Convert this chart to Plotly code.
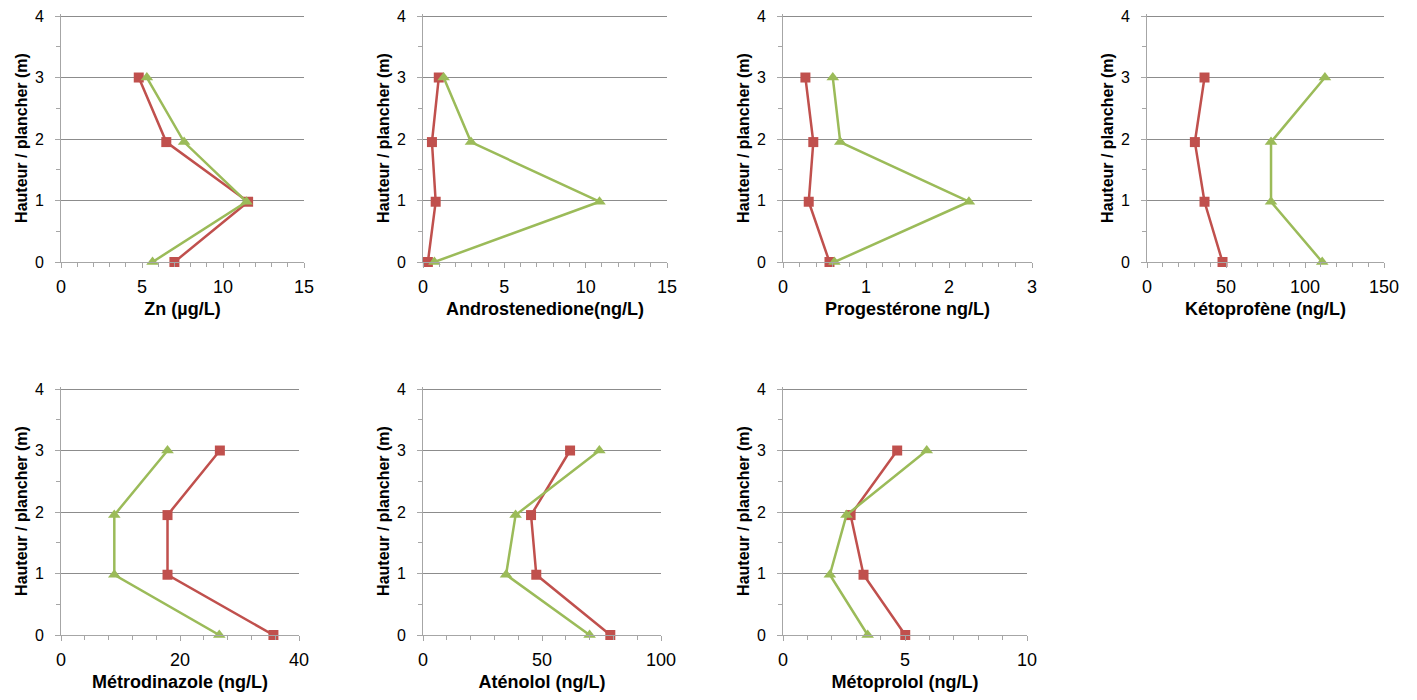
import plotly.graph_objects as go

# ---- data ----
heights = [0, 0.98, 1.95, 3]

titles = ["Zn (µg/L)", "Androstenedione(ng/L)", "Progestérone ng/L)", "Kétoprofène (ng/L)",
          "Métrodinazole (ng/L)", "Aténolol (ng/L)", "Métoprolol (ng/L)"]

zn_red = [7.0, 11.55, 6.5, 4.8]
zn_green = [5.65, 11.45, 7.6, 5.3]
andro_red = [0.3, 0.78, 0.55, 0.97]
andro_green = [0.7, 10.85, 2.95, 1.27]
prog_red = [0.56, 0.31, 0.365, 0.27]
prog_green = [0.62, 2.24, 0.69, 0.60]
keto_red = [47.8, 36.4, 30.3, 36.4]
keto_green = [110.9, 78.5, 78.5, 112.6]
metro_red = [35.7, 17.9, 17.9, 26.7]
metro_green = [26.6, 8.96, 8.96, 17.9]
aten_red = [78.7, 47.6, 45.4, 61.8]
aten_green = [70.0, 34.9, 38.9, 74.1]
meto_red = [5.01, 3.30, 2.77, 4.68]
meto_green = [3.47, 1.92, 2.60, 5.89]

red_series = [zn_red, andro_red, prog_red, keto_red, metro_red, aten_red, meto_red]
green_series = [zn_green, andro_green, prog_green, keto_green, metro_green, aten_green, meto_green]

x_max = [15, 15, 3, 150, 40, 100, 10]
x_major = [5, 5, 1, 50, 20, 50, 5]
x_minor = [1, 1, 0.2, 10, 4, 10, 1]

y_title = "Hauteur / plancher (m)"

# ---- layout geometry (pixels, page coordinates; page body has an 8px margin) ----
OFF = 8
W, H = 1417 - 2 * OFF, 700 - 2 * OFF
boxes = [  # x0, x1, ytop, ybottom
    (61, 304, 14, 262),
    (423, 667, 14, 262),
    (783, 1032, 14, 262),
    (1147, 1384, 14, 262),
    (61, 299, 387, 635),
    (423, 661, 387, 635),
    (783, 1027, 387, 635),
]

RED = "#C0504D"
GREEN = "#9BBB59"
FONT = "Liberation Sans, Arial, sans-serif"
GRID = "#8c8c8c"
AXIS = "#a6a6a6"

fig = go.Figure()
layout = dict(
    width=W, height=H, margin=dict(l=0, r=0, t=0, b=0),
    paper_bgcolor="white", plot_bgcolor="white", showlegend=False,
    font=dict(family=FONT, size=16, color="#000000"),
)

for i in range(7):
    n = "" if i == 0 else str(i + 1)
    xa, ya = "x" + n, "y" + n
    x0, x1, yt, yb = [v - OFF for v in boxes[i]]
    fig.add_trace(go.Scatter(
        x=red_series[i], y=heights, xaxis=xa, yaxis=ya, mode="lines+markers",
        line=dict(color=RED, width=2.5),
        marker=dict(symbol="square", size=10, color=RED), cliponaxis=False))
    fig.add_trace(go.Scatter(
        x=green_series[i], y=heights, xaxis=xa, yaxis=ya, mode="lines+markers",
        line=dict(color=GREEN, width=2.5),
        marker=dict(symbol="triangle-up", size=11, color=GREEN), cliponaxis=False))
    layout["xaxis" + n] = dict(
        domain=[x0 / W, x1 / W], anchor=ya, range=[0, x_max[i]], automargin=False,
        tick0=0, dtick=x_major[i], ticks="outside", ticklen=5, tickcolor=AXIS,
        ticklabelstandoff=3, ticklabeloverflow="allow",
        showgrid=False, zeroline=False, showline=True, linecolor=AXIS, linewidth=1,
        minor=dict(dtick=x_minor[i], tick0=0, ticks="outside", ticklen=4, tickcolor=AXIS, showgrid=False),
        tickfont=dict(size=18, family=FONT, color="#000"),
        title=dict(text="<b>" + titles[i] + "</b>", font=dict(size=18, family=FONT, color="#000"), standoff=6),
        fixedrange=True,
    )
    layout["yaxis" + n] = dict(
        domain=[1 - yb / H, 1 - yt / H], anchor=xa, range=[0, 4.033], automargin=False,
        tick0=0, dtick=1, ticks="outside", ticklen=5, tickcolor=AXIS,
        ticklabelstandoff=8, ticklabeloverflow="allow",
        showgrid=True, gridcolor=GRID, gridwidth=1, zeroline=False,
        showline=True, linecolor=AXIS, linewidth=1,
        minor=dict(dtick=0.5, tick0=0, ticks="outside", ticklen=4, tickcolor=AXIS, showgrid=False),
        tickfont=dict(size=16, family=FONT, color="#000"),
        title=dict(text="<b>" + y_title + "</b>", font=dict(size=16, family=FONT, color="#000"), standoff=3),
        fixedrange=True,
    )

fig.update_layout(**layout)
fig.write_html("out.html")
